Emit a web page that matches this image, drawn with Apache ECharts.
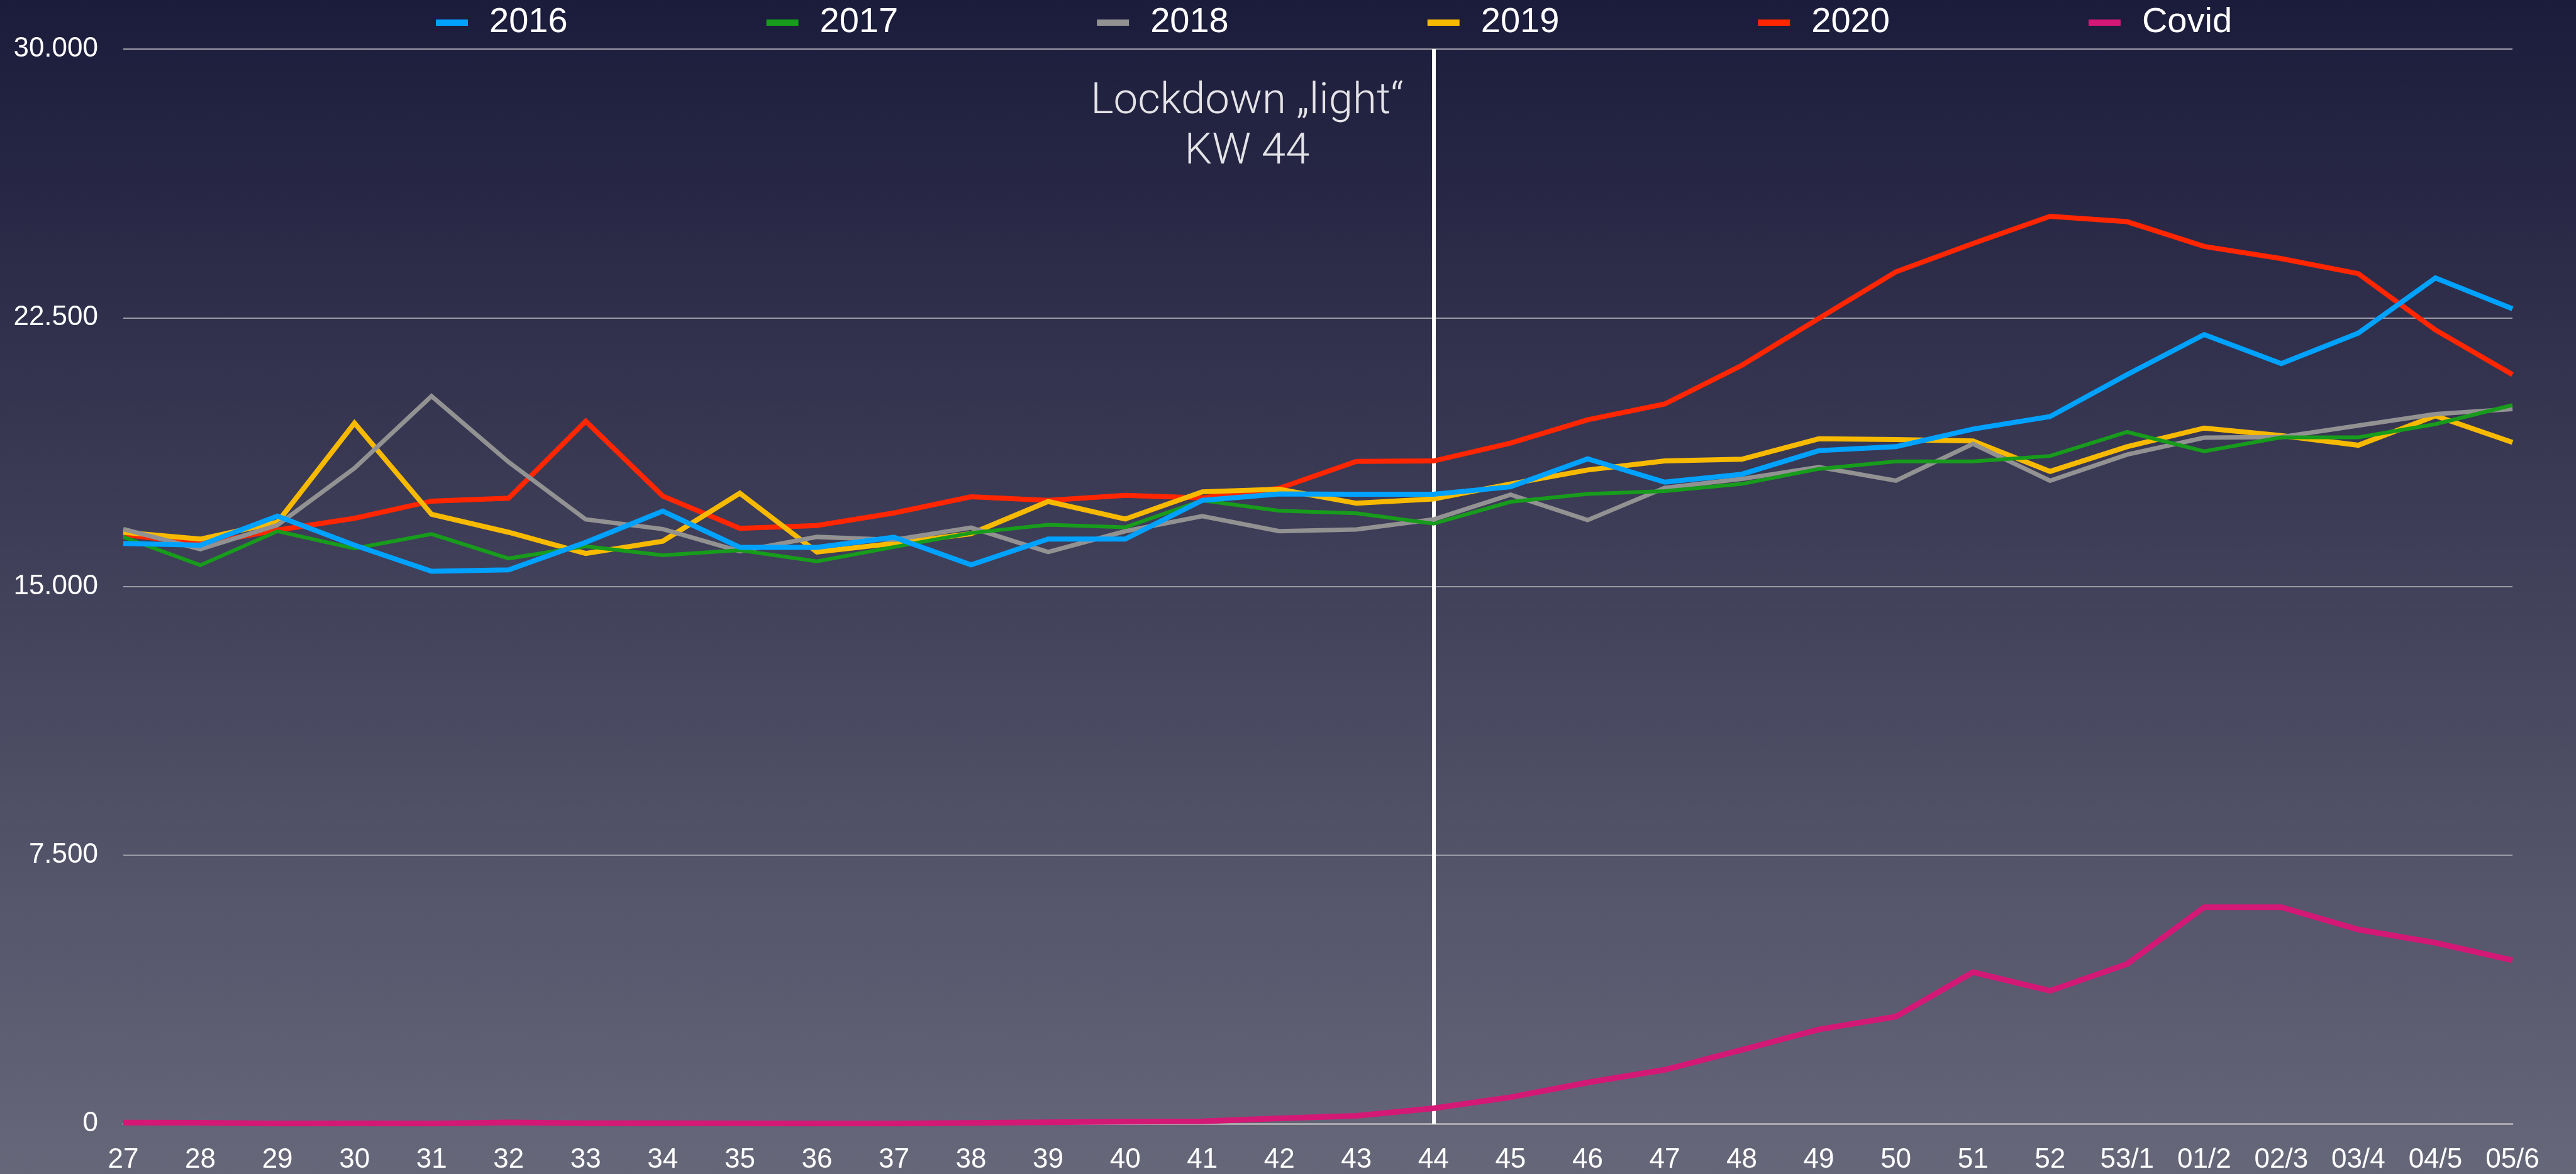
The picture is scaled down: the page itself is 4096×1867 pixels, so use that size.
<!DOCTYPE html>
<html>
<head>
<meta charset="utf-8">
<script src="https://cdn.jsdelivr.net/npm/echarts@6/dist/echarts.min.js"></script>
<style>
html, body { margin: 0; padding: 0; }
#chart { width: 4096px; height: 1867px; }
</style>
</head>
<body>
<div id="chart"></div>
<script>
var weeks = ['27', '28', '29', '30', '31', '32', '33', '34', '35', '36', '37', '38', '39', '40', '41', '42',
    '43', '44', '45', '46', '47', '48', '49', '50', '51', '52', '53/1', '01/2', '02/3', '03/4', '04/5', '05/6'];

var y2016 = [16200, 16150, 16960, 16150, 15420, 15460, 16230, 17100, 16090, 16090, 16370, 15600, 16320, 16320, 17400, 17580,
    17570, 17570, 17780, 18560, 17910, 18130, 18790, 18900, 19390, 19740, 20910, 22030, 21220, 22070, 23610, 22750];
var y2017 = [16380, 15590, 16540, 16060, 16460, 15780, 16120, 15870, 16010, 15700, 16100, 16490, 16720, 16650, 17400, 17110,
    17040, 16750, 17360, 17580, 17660, 17860, 18280, 18490, 18490, 18640, 19310, 18770, 19160, 19160, 19530, 20060];
var y2018 = [16600, 16040, 16710, 18300, 20310, 18470, 16870, 16600, 15980, 16380, 16300, 16640, 15960, 16540, 16960, 16540,
    16590, 16870, 17560, 16850, 17750, 18000, 18330, 17950, 18980, 17950, 18680, 19150, 19170, 19490, 19810, 19950];
var y2019 = [16510, 16320, 16790, 19560, 17010, 16510, 15920, 16260, 17600, 15960, 16200, 16470, 17370, 16880, 17640, 17710,
    17320, 17440, 17860, 18250, 18500, 18550, 19120, 19100, 19060, 18210, 18900, 19420, 19210, 18940, 19760, 19020];
var y2020 = [16450, 16180, 16570, 16900, 17380, 17460, 19610, 17520, 16620, 16700, 17050, 17500, 17400, 17540, 17470, 17740,
    18490, 18500, 19000, 19650, 20090, 21170, 22480, 23780, 24570, 25330, 25180, 24490, 24150, 23730, 22160, 20910];
var covid = [30, 25, 5, 10, 5, 35, 15, 15, 10, 5, 5, 20, 40, 55, 65, 150,
    220, 430, 740, 1150, 1505, 2060, 2630, 2990, 4230, 3710, 4460, 6045, 6045, 5420, 5050, 4560];

var yTicks = [0, 7500, 15000, 22500, 30000];
var lockdownWeek = '44';

var seriesNames = ['2016', '2017', '2018', '2019', '2020', 'Covid'];
var seriesData = [y2016, y2017, y2018, y2019, y2020, covid];
var colors = ['#00a2ff', '#179c1b', '#929292', '#f8ba00', '#ff2600', '#d41876'];
var widths = [8, 6, 7, 8, 8, 9];

var fontMain = '"Helvetica Neue", "Liberation Sans", Arial, sans-serif';

function fmt(v) {
    // German thousands separator
    return String(v).replace(/\B(?=(\d{3})+(?!\d))/g, '.');
}

var dom = document.getElementById('chart');
var myChart = echarts.init(dom);

var series = seriesNames.map(function (name, i) {
    var s = {
        name: name,
        type: 'line',
        data: seriesData[i],
        showSymbol: false,
        symbol: 'none',
        z: 10 - i,   // 2016 on top, as in the original
        lineStyle: { width: widths[i], color: colors[i], join: 'miter' },
        itemStyle: { color: colors[i] },
        animation: false
    };
    if (name === 'Covid') {
        s.markLine = {
            silent: true,
            symbol: 'none',
            label: { show: false },
            lineStyle: { color: '#ffffff', width: 6, type: 'solid' },
            data: [{ xAxis: lockdownWeek }]
        };
    }
    return s;
});

var option = {
    backgroundColor: new echarts.graphic.LinearGradient(0, 0, 0, 1, [
        { offset: 0, color: '#1b1b3b' },
        { offset: 1, color: '#67677a' }
    ]),
    color: colors,
    animation: false,
    legend: {
        data: seriesNames,
        left: 693,
        top: 8,
        padding: 0,
        icon: 'rect',
        itemWidth: 51,
        itemHeight: 10,
        itemGap: 316,
        textStyle: {
            color: '#ffffff',
            fontSize: 56,
            fontFamily: fontMain,
            padding: [0, 0, 0, 29]
        }
    },
    grid: {
        left: 196,
        right: 101,
        top: 78,
        bottom: 78,
        containLabel: false
    },
    xAxis: {
        type: 'category',
        data: weeks,
        boundaryGap: false,
        axisTick: { show: false },
        axisLine: { lineStyle: { color: '#a9a9ad', width: 3 } },
        axisLabel: {
            interval: 0,
            color: '#ffffff',
            fontSize: 44,
            fontFamily: fontMain,
            margin: 36
        },
        splitLine: { show: false }
    },
    yAxis: {
        type: 'value',
        min: yTicks[0],
        max: yTicks[yTicks.length - 1],
        interval: yTicks[1] - yTicks[0],
        axisLine: { show: false },
        axisTick: { show: false },
        axisLabel: {
            color: '#ffffff',
            fontSize: 44,
            fontFamily: fontMain,
            margin: 40,
            formatter: fmt
        },
        splitLine: { lineStyle: { color: '#9c9ca6', width: 2 } }
    },
    graphic: [{
        type: 'text',
        x: 1983,
        y: 123,
        silent: true,
        style: {
            text: 'Lockdown \u201Elight\u201C\nKW 44',
            textAlign: 'center',
            textVerticalAlign: 'top',
            fontSize: 69,
            fontWeight: 300,
            fontFamily: 'Roboto, "Liberation Sans", sans-serif',
            lineHeight: 80,
            fill: '#e4e4e8'
        }
    }],
    series: series
};

if (option && typeof option === 'object') {
    myChart.setOption(option, true);
}
</script>
</body>
</html>
